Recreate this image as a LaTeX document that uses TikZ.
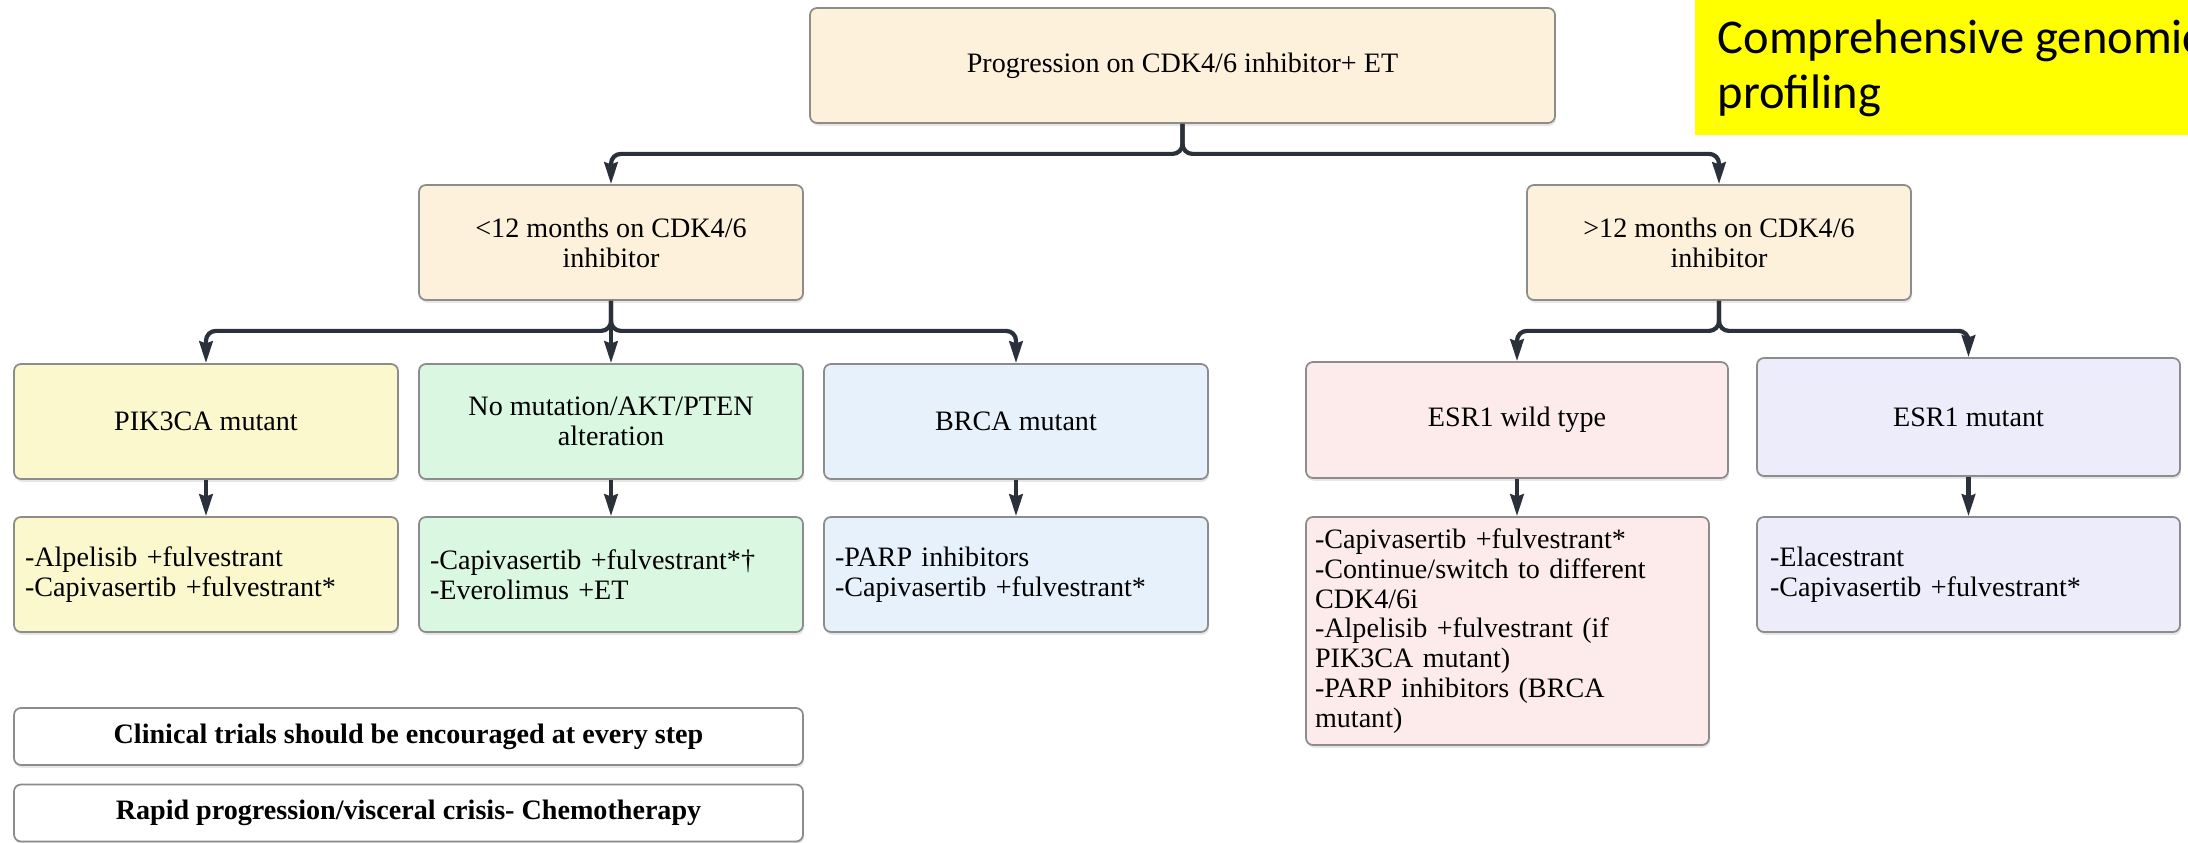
\documentclass[tikz,border=0pt]{standalone}
\usepackage{fontspec}
\setmainfont{Liberation Serif}
\newfontfamily\notefont{Carlito}
\definecolor{mycream}{RGB}{254,241,219}
\definecolor{myyellow}{RGB}{250,248,204}
\definecolor{mygreen}{RGB}{218,247,226}
\definecolor{myblue}{RGB}{230,241,252}
\definecolor{mypink}{RGB}{253,235,235}
\definecolor{mylilac}{RGB}{236,236,250}
\definecolor{myborder}{RGB}{140,140,140}
\definecolor{mydark}{RGB}{42,49,59}
\definecolor{myhigh}{RGB}{255,255,0}
\usetikzlibrary{arrows.meta,shadows,positioning}

\begin{document}
\begin{tikzpicture}[font=\fontsize{8pt}{8.5pt}\selectfont,
        flowbox/.style={draw=myborder,line width=0.5pt,rounded corners=2pt,inner sep=0pt,
            minimum width=3.84cm,minimum height=1.15cm,align=center,
            drop shadow={shadow xshift=0.3pt,shadow yshift=-0.8pt,opacity=0.2}},
        creambox/.style={flowbox,fill=mycream},
        yellowbox/.style={flowbox,fill=myyellow},
        greenbox/.style={flowbox,fill=mygreen},
        bluebox/.style={flowbox,fill=myblue},
        pinkbox/.style={flowbox,fill=mypink},
        lilacbox/.style={flowbox,fill=mylilac},
        txbox/.style={align=left,text width=3.62cm},
        notebox/.style={flowbox,fill=white,minimum width=7.89cm,minimum height=0.57cm,
            font=\fontsize{8pt}{8.5pt}\selectfont\bfseries},
        notetext/.style={inner sep=0pt,anchor=base west,
            font=\notefont\fontsize{13.8pt}{15.6pt}\selectfont},
        arr/.style={draw=mydark,line width=1.2pt,rounded corners=2.8pt,
            -{Stealth[length=6.2pt,width=3.8pt,inset=0.6pt]}}
        ]
        \useasboundingbox (0,0) rectangle (21.88,-8.43);
        \clip (0,0) rectangle (21.88,-8.43);

        % the note in the corner
        \fill[myhigh] (16.95,0.3) rectangle (22.2,-1.35);
        \node[notetext] (cgp1) at (17.17,-0.53) {Comprehensive genomic};
        \node[notetext] (cgp2) at (17.17,-1.08) {profiling};

        % the first two rows
        \node[creambox,minimum width=7.45cm] (prog) at (11.825,-0.655) {Progression on CDK4/6 inhibitor+ ET};
        \node[creambox] (lt12) at (6.11,-2.425) {<12 months on CDK4/6\\inhibitor};
        \node[creambox] (gt12) at (17.19,-2.425) {>12 months on CDK4/6\\inhibitor};

        % the alterations
        \node[yellowbox] (pik) at (2.06,-4.215) {PIK3CA mutant};
        \node[greenbox] (nomut) at (6.11,-4.215) {No mutation/AKT/PTEN\\alteration};
        \node[bluebox] (brca) at (10.16,-4.215) {BRCA mutant};
        \node[pinkbox,minimum width=4.22cm,minimum height=1.16cm] (esrwt) at (15.17,-4.2) {ESR1 wild type};
        \node[lilacbox,minimum width=4.23cm,minimum height=1.18cm] (esrmut) at (19.685,-4.17) {ESR1 mutant};

        % the treatments
        \node[yellowbox,txbox] (piktx) at (2.06,-5.745) {-Alpelisib +fulvestrant\\-Capivasertib +fulvestrant*};
        \node[greenbox,txbox] (nomuttx) at (6.11,-5.745) {-Capivasertib +fulvestrant*†\\-Everolimus +ET};
        \node[bluebox,txbox] (brcatx) at (10.16,-5.745) {-PARP inhibitors\\-Capivasertib +fulvestrant*};
        \node[pinkbox,txbox,minimum width=4.03cm,minimum height=2.28cm,text width=3.85cm] (esrwttx) at (15.075,-6.31)
            {-Capivasertib +fulvestrant*\\-Continue/switch to different\\CDK4/6i\\-Alpelisib +fulvestrant (if\\PIK3CA mutant)\\-PARP inhibitors (BRCA\\mutant)};
        \node[lilacbox,txbox,minimum width=4.23cm,text width=3.97cm] (esrmuttx) at (19.685,-5.745) {-Elacestrant\\-Capivasertib +fulvestrant*};

        % the notes
        \node[notebox] (trials) at (4.085,-7.365) {Clinical trials should be encouraged at every step};
        \node[notebox] (rapid) at (4.085,-8.13) {Rapid progression/visceral crisis- Chemotherapy};

        % the edges
        \draw[arr] (prog.south) -- ++(0,-0.3) -| (lt12.north);
        \draw[arr] (prog.south) -- ++(0,-0.3) -| (gt12.north);
        \draw[arr] (lt12.south) -- ++(0,-0.3) -| (pik.north);
        \draw[arr] (lt12.south) -- (nomut.north);
        \draw[arr] (lt12.south) -- ++(0,-0.3) -| (brca.north);
        \draw[arr] (gt12.south) -- ++(0,-0.3) -| (esrwt.north);
        \draw[arr] (gt12.south) -- ++(0,-0.3) -| (esrmut.north);
        \draw[arr] (pik) -- (piktx);
        \draw[arr] (nomut) -- (nomuttx);
        \draw[arr] (brca) -- (brcatx);
        \draw[arr] (esrwt.south) -- (esrwt.south |- esrwttx.north);
        \draw[arr] (esrmut) -- (esrmuttx);
\end{tikzpicture}
\end{document}
